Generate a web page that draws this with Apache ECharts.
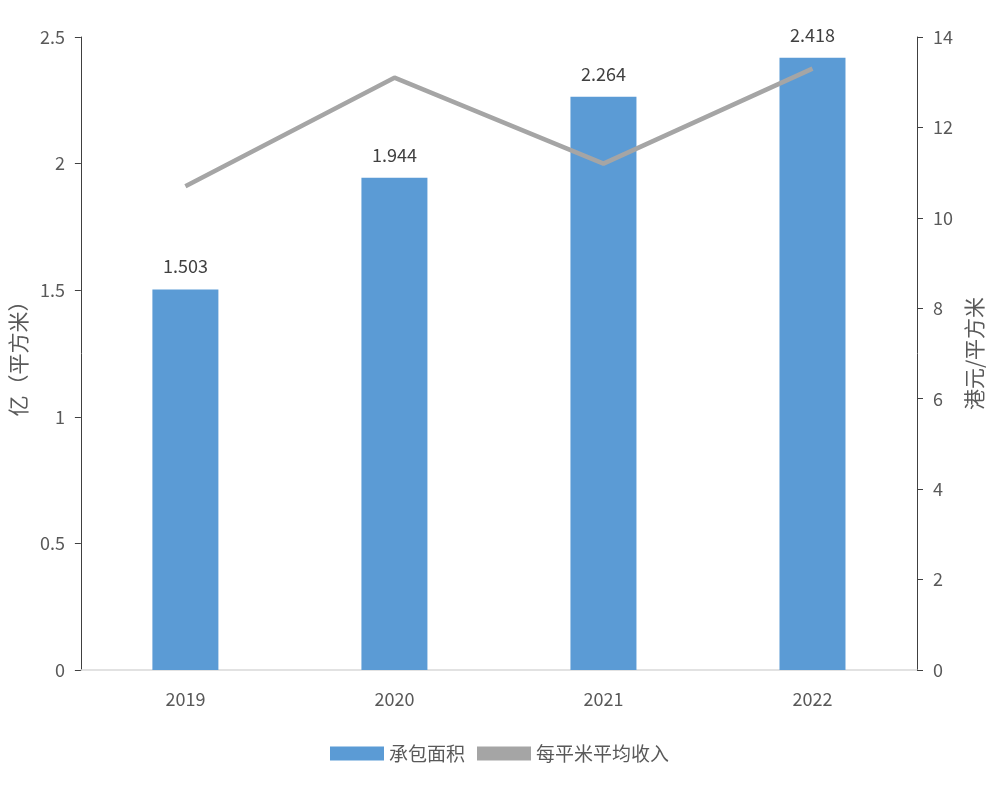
<!DOCTYPE html>
<html><head><meta charset="utf-8">
<script src="https://cdn.jsdelivr.net/npm/echarts@6/dist/echarts.min.js"></script>
<style>html,body{margin:0;padding:0;background:#fff}#c{width:999px;height:794px}</style>
</head><body><div id="c"></div>
<script>
const categories = ['2019','2020','2021','2022'];
const area = [1.503, 1.944, 2.264, 2.418];
const income = [10.7, 13.1, 11.2, 13.3];
const leftTicks = [0, 2.5, 0.5];
const rightTicks = [0, 14, 2];
const font = '"Noto Sans CJK SC", "Open Sans", sans-serif';
const chart = echarts.init(document.getElementById('c'));
chart.setOption({
  animation: false,
  textStyle: {fontFamily: font},
  grid: {left: 80, right: 82, top: 37, bottom: 124},
  legend: {bottom: 26, left: 'center', itemGap: 12, itemWidth: 54, itemHeight: 14,
    textStyle: {fontSize: 19, color: '#595959', fontFamily: font},
    data: [{name: '承包面积', icon: 'rect'}, {name: '每平米平均收入', icon: 'rect', itemStyle:{color:'#a5a5a5'}}]},
  xAxis: {type: 'category', data: categories,
    axisLine: {lineStyle: {color: '#d9d9d9', width: 1.5}}, axisTick: {show: false},
    axisLabel: {fontSize: 18, color: '#595959', margin: 20}},
  yAxis: [
    {type: 'value', min: leftTicks[0], max: leftTicks[1], interval: leftTicks[2],
     name: '亿（平方米）', nameLocation: 'middle', nameRotate: 90, nameGap: 30,
     nameTextStyle: {fontSize: 21, color: '#595959'},
     axisLine: {show: true, lineStyle: {color: '#404040'}}, axisTick: {show: true, length: 6, lineStyle:{color:'#404040'}},
     splitLine: {show: false}, axisLabel: {fontSize: 18, color: '#595959', margin: 16}},
    {type: 'value', min: rightTicks[0], max: rightTicks[1], interval: rightTicks[2], position: 'right',
     name: '港元/平方米', nameLocation: 'middle', nameRotate: 90, nameGap: 32,
     nameTextStyle: {fontSize: 21, color: '#595959'},
     axisLine: {show: true, lineStyle: {color: '#404040'}}, axisTick: {show: true, length: 6, lineStyle:{color:'#404040'}},
     splitLine: {show: false}, axisLabel: {fontSize: 18, color: '#595959', margin: 16}}
  ],
  series: [
    {name: '承包面积', type: 'bar', data: area, barWidth: 66, itemStyle: {color: '#5b9bd5'},
     label: {show: true, position: 'top', distance: 14, fontSize: 18, color: '#404040'}},
    {name: '每平米平均收入', type: 'line', yAxisIndex: 1, data: income, symbol: 'none',
     lineStyle: {color: '#a5a5a5', width: 4.5}, itemStyle: {color: '#a5a5a5'},
     label: {show: true, position: 'right', offset: [8, 8], fontSize: 18, color: '#404040'}}
  ]
});
</script></body></html>
